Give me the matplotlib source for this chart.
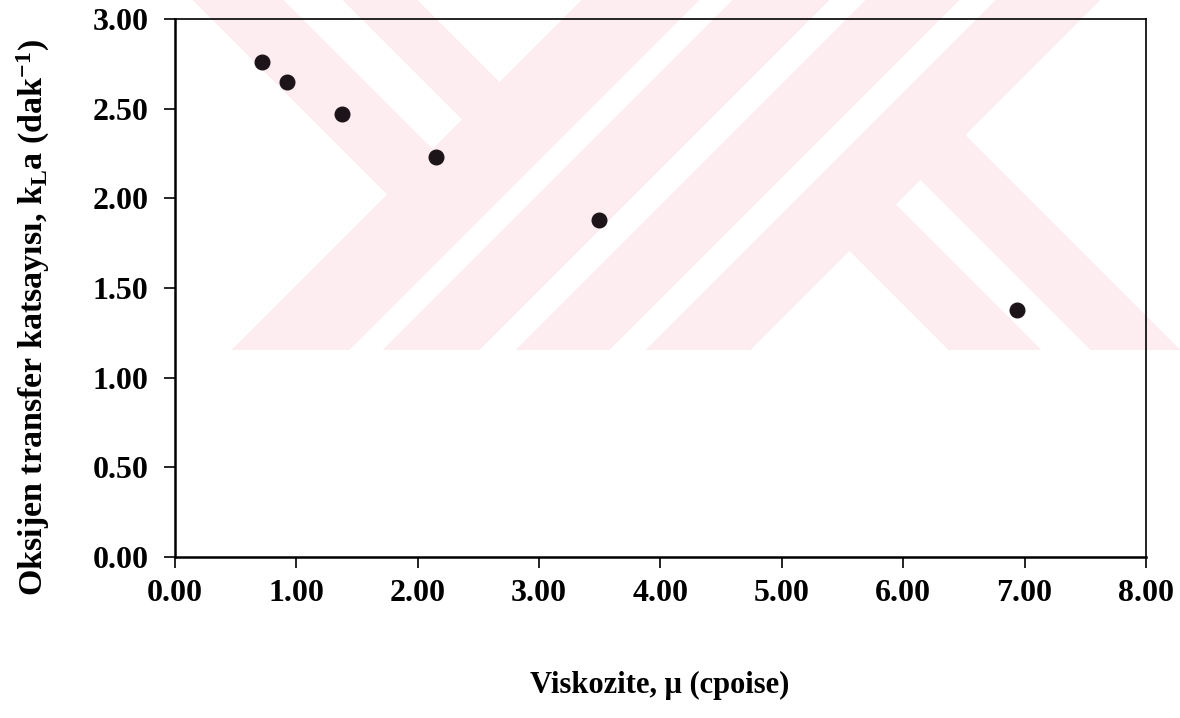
import numpy as np
import matplotlib
matplotlib.use("Agg")
import matplotlib.pyplot as plt

# ---- data ----
viscosity = [0.72, 0.92, 1.38, 2.15, 3.49, 6.94]      # cpoise
kla = [2.76, 2.65, 2.47, 2.23, 1.88, 1.38]            # dak^-1
x_ticks = [0, 1, 2, 3, 4, 5, 6, 7, 8]
y_ticks = [0.0, 0.5, 1.0, 1.5, 2.0, 2.5, 3.0]
x_label = "Viskozite, μ (cpoise)"
y_label = "Oksijen transfer katsayısı, k$_{L}$a (dak$^{-1}$)"

plt.rcParams['font.family'] = ['Liberation Serif', 'DejaVu Serif']
plt.rcParams['font.weight'] = 'bold'
plt.rcParams['mathtext.fontset'] = 'custom'
plt.rcParams['mathtext.rm'] = 'Liberation Serif:bold'
plt.rcParams['mathtext.bf'] = 'Liberation Serif:bold'
plt.rcParams['mathtext.it'] = 'Liberation Serif:bold:italic'
plt.rcParams['mathtext.default'] = 'rm'

W, H = 1180, 718
fig = plt.figure(figsize=(W / 100, H / 100), dpi=100)
fig.patch.set_facecolor('white')

# ---- background watermark (pale pink diagonal stripes) ----
bg = fig.add_axes([0, 0, 1, 1], zorder=0)
bg.set_axis_off()
yy, xx = np.mgrid[0:H, 0:W] + 0.5
s = xx + yy
d = xx - yy
regA = s < 582
regC = s > 1100
regB = ~regA & ~regC
pinkA = regA & (((d >= 193) & (d <= 283)) | ((d >= 343) & (d <= 417)))
pinkB = regB & ~(((s >= 700) & (s <= 732)) | ((s >= 830) & (s <= 865)) | ((s >= 960) & (s <= 995)))
pinkC = regC & (((d >= 599) & (d <= 691)) | ((d >= 741) & (d <= 830)))
pink = (pinkA | pinkB | pinkC) & (yy <= 350)
img = np.ones((H, W, 3))
img[pink] = np.array([253, 236, 240]) / 255.0
bg.imshow(img, extent=[0, W, H, 0], aspect='auto', interpolation='nearest')
bg.set_xlim(0, W)
bg.set_ylim(H, 0)

# ---- main axes ----
left, right, top, bottom = 175, 1146, 19, 557
ax = fig.add_axes([left / W, 1 - bottom / H, (right - left) / W, (bottom - top) / H], zorder=1)
ax.patch.set_alpha(0)

ax.plot(viscosity, kla, linestyle='none', marker='o', markersize=10.5,
        markerfacecolor='#1c1418', markeredgecolor='#1c1418', zorder=3, clip_on=False)

ax.set_xlim(0, 8)
ax.set_ylim(0, 3)
ax.set_xticks(x_ticks)
ax.set_xticklabels([f"{v:.2f}" for v in x_ticks])
ax.set_yticks(y_ticks)
ax.set_yticklabels([f"{v:.2f}" for v in y_ticks])

for side in ['left', 'bottom']:
    ax.spines[side].set_linewidth(1.8)
for side in ['top', 'right']:
    ax.spines[side].set_linewidth(1.2)
for sp in ax.spines.values():
    sp.set_color('black')

ax.tick_params(axis='both', direction='out', length=8, width=1.2, labelsize=23, colors='black')
ax.tick_params(axis='y', pad=11)
ax.tick_params(axis='x', pad=8)
for lab in ax.get_xticklabels() + ax.get_yticklabels():
    lab.set_fontweight('bold')

fig.text(660 / W, 1 - 685 / H, x_label, ha='center', va='center', fontsize=22, fontweight='bold')
fig.text(33 / W, 1 - 318 / H, y_label, ha='center', va='center', rotation=90,
         fontsize=24.5, fontweight='bold')

fig.savefig('out.png', dpi=100)
